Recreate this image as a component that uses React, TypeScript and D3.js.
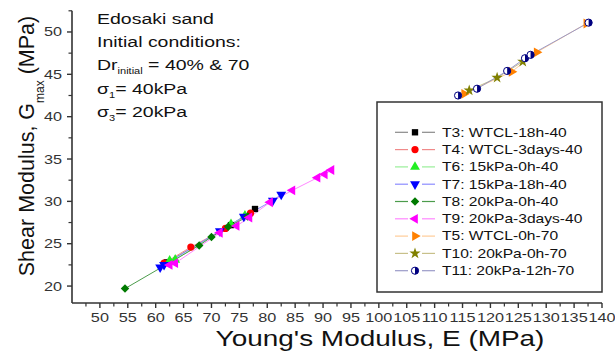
import React from 'react';
import * as d3 from 'd3';

// Series data: [E (MPa), Gmax (MPa)]
const t3Data = [[62, 22.8], [73.5, 27.2], [77.8, 29.1]];
const t4Data = [[61.5, 22.7], [66.3, 24.6], [72.5, 26.8], [77, 28.6]];
const t6Data = [[62.5, 23], [63.5, 23.1], [73.5, 27.3], [76, 28.3]];
const t7Data = [[60.8, 22.2], [61.5, 22.5], [71.5, 26.5], [75.8, 28.2], [81, 30.1], [82.5, 30.8]];
const t8Data = [[54.5, 19.7], [67.8, 24.8], [70, 25.8], [73, 27], [76.5, 28.2]];
const t9Data = [[62.5, 22.5], [63.5, 22.7], [71.5, 26.3], [74.5, 27.1], [76.8, 28.1], [80.5, 29.9], [84.5, 31.3], [89, 32.8], [90.3, 33.2], [91.5, 33.7]];
const t5Data = [[115.3, 42.7], [123.8, 45.3], [128.3, 47.6], [137.2, 51]];
const t10Data = [[116.2, 43.1], [121.2, 44.6], [125.8, 46.5]];
const t11Data = [[114.2, 42.5], [117.6, 43.3], [123, 45.4], [126.2, 46.9], [127.2, 47.3], [137.6, 51.1]];

const seriesNames = ['T3: WTCL-18h-40', 'T4: WTCL-3days-40', 'T6: 15kPa-0h-40', 'T7: 15kPa-18h-40', 'T8: 20kPa-0h-40', 'T9: 20kPa-3days-40', 'T5: WTCL-0h-70', 'T10: 20kPa-0h-70', 'T11: 20kPa-12h-70'];
const seriesData = [t3Data, t4Data, t6Data, t7Data, t8Data, t9Data, t5Data, t10Data, t11Data];

const xTicks = d3.range(50, 141, 5);
const yTicks = d3.range(20, 51, 5);

const styles = [
  { shape: 'square', fill: '#000000', line: '#8a8a8a' },
  { shape: 'circle', fill: '#ff0000', line: '#f08a8a' },
  { shape: 'up', fill: '#22ee22', line: '#99ee99' },
  { shape: 'down', fill: '#0000ff', line: '#8c8cff' },
  { shape: 'diamond', fill: '#007a00', line: '#4c9c4c' },
  { shape: 'left', fill: '#ff00ff', line: '#ff88ff' },
  { shape: 'right', fill: '#ff8000', line: '#ffcc99' },
  { shape: 'star', fill: '#808000', line: '#c8c08a' },
  { shape: 'half', fill: '#000080', line: '#9a9ac8' },
];

const W = 615;
const H = 351;
const SX = 1.3; // the reference is stretched sideways
const FONT = 'Liberation Sans, Arial, sans-serif';
const AXIS = '#333333';

const x = d3.scaleLinear().domain([45, 140]).range([72, 602]);
const y = d3.scaleLinear().domain([18, 52.5]).range([303, 10.8]);

const tri = d3.symbol().type(d3.symbolTriangle).size(42)();
const sq = d3.symbol().type(d3.symbolSquare).size(40)();
const dia = d3.symbol().type(d3.symbolSquare).size(36)();
const star = d3.symbol().type(d3.symbolStar).size(40)();
const halfArc = d3.arc()({ innerRadius: 0, outerRadius: 3.6, startAngle: 0, endAngle: Math.PI } as any) as string;

const Marker = ({ shape, fill, cx, cy }: { shape: string; fill: string; cx: number; cy: number }) => {
  const t = `translate(${cx},${cy})`;
  if (shape === 'circle') return <circle cx={cx} cy={cy} r={3.6} fill={fill} />;
  if (shape === 'square') return <path d={sq} transform={t} fill={fill} />;
  if (shape === 'diamond') return <path d={dia} transform={`${t} rotate(45)`} fill={fill} />;
  if (shape === 'star') return <path d={star} transform={t} fill={fill} />;
  if (shape === 'up') return <path d={tri} transform={t} fill={fill} />;
  if (shape === 'down') return <path d={tri} transform={`${t} rotate(180)`} fill={fill} />;
  if (shape === 'left') return <path d={tri} transform={`${t} rotate(-90)`} fill={fill} />;
  if (shape === 'right') return <path d={tri} transform={`${t} rotate(90)`} fill={fill} />;
  return (
    <g transform={t}>
      <circle r={3.6} fill="#ffffff" stroke={fill} strokeWidth={1} />
      <path d={halfArc} fill={fill} />
    </g>
  );
};

const lineGen = d3.line<number[]>().x(d => x(d[0])).y(d => y(d[1]));

const App = () => {
  const xMinor = d3.range(47.5, 140, 5);
  const yMinor = d3.range(22.5, 53, 5);
  const legendY = (i: number) => 132.3 + i * 17.3;

  return (
    <div style={{ position: 'fixed', left: 0, top: 0 }}>
      <svg width={W} height={H} style={{ display: 'block', background: '#fff' }}>
        {/* series lines */}
        {seriesData.map((data, i) => (
          <path key={'l' + i} d={lineGen([...data].sort((a, b) => a[0] - b[0])) || ''} fill="none" stroke={styles[i].line} strokeWidth={1} />
        ))}
        {/* markers */}
        {seriesData.map((data, i) =>
          data.map((d, j) => <Marker key={`m${i}-${j}`} shape={styles[i].shape} fill={styles[i].fill} cx={x(d[0])} cy={y(d[1])} />)
        )}

        {/* axes */}
        <line x1={72} x2={72} y1={y(52.5)} y2={303} stroke={AXIS} strokeWidth={1.6} />
        <line x1={72} x2={602} y1={303} y2={303} stroke={AXIS} strokeWidth={1.6} />
        {xTicks.map(t => (
          <g key={'xt' + t}>
            <line x1={x(t)} x2={x(t)} y1={303} y2={308} stroke={AXIS} strokeWidth={1.4} />
            <text transform={`translate(${x(t)},322) scale(${SX},1)`} textAnchor="middle" fontFamily={FONT} fontSize={12.5} fill={AXIS}>{t}</text>
          </g>
        ))}
        {xMinor.map(t => (
          <line key={'xm' + t} x1={x(t)} x2={x(t)} y1={303} y2={306.5} stroke={AXIS} strokeWidth={1.2} />
        ))}
        {yTicks.map(t => (
          <g key={'yt' + t}>
            <line x1={67} x2={72} y1={y(t)} y2={y(t)} stroke={AXIS} strokeWidth={1.4} />
            <text transform={`translate(62,${y(t) + 4.5}) scale(${SX},1)`} textAnchor="end" fontFamily={FONT} fontSize={12.5} fill={AXIS}>{t}</text>
          </g>
        ))}
        {yMinor.map(t => (
          <line key={'ym' + t} x1={68.5} x2={72} y1={y(t)} y2={y(t)} stroke={AXIS} strokeWidth={1.2} />
        ))}

        {/* axis titles */}
        <text transform={`translate(380,346) scale(${SX},1)`} textAnchor="middle" fontFamily={FONT} fontSize={21.5} fill="#111">
          Young's Modulus, E (MPa)
        </text>
        <text transform="translate(34,146) rotate(-90)" textAnchor="middle" fontFamily={FONT} fontSize={21.5} fill="#111">
          Shear Modulus, G<tspan fontSize={12} dy={10}>max</tspan><tspan dy={-10}> (MPa)</tspan>
        </text>

        {/* annotation */}
        <g fontFamily={FONT} fontSize={15} fill="#111">
          <text transform={`translate(97,24) scale(${SX},1)`}>Edosaki sand</text>
          <text transform={`translate(97,47) scale(${SX},1)`}>Initial conditions:</text>
          <text transform={`translate(97,70) scale(${SX},1)`}>
            Dr<tspan fontSize={8.5} dy={4}>initial</tspan><tspan dy={-4}> = 40% &amp; 70</tspan>
          </text>
          <text transform={`translate(97,94) scale(${SX},1)`}>
            σ<tspan fontSize={8.5} dy={4}>1</tspan><tspan dy={-4}>= 40kPa</tspan>
          </text>
          <text transform={`translate(97,117) scale(${SX},1)`}>
            σ<tspan fontSize={8.5} dy={4}>3</tspan><tspan dy={-4}>= 20kPa</tspan>
          </text>
        </g>

        {/* legend */}
        <rect x={377} y={102} width={225} height={190} fill="#fff" stroke={AXIS} strokeWidth={1.5} />
        {seriesNames.map((name, i) => (
          <g key={'lg' + i}>
            <line x1={395} x2={408} y1={legendY(i)} y2={legendY(i)} stroke={styles[i].line} strokeWidth={1.2} />
            <line x1={422} x2={435} y1={legendY(i)} y2={legendY(i)} stroke={styles[i].line} strokeWidth={1.2} />
            <Marker shape={styles[i].shape} fill={styles[i].fill} cx={415} cy={legendY(i)} />
            <text transform={`translate(442,${legendY(i) + 4.3}) scale(${SX},1)`} fontFamily={FONT} fontSize={12} fill="#111">{name}</text>
          </g>
        ))}
      </svg>
    </div>
  );
};

export default App;
